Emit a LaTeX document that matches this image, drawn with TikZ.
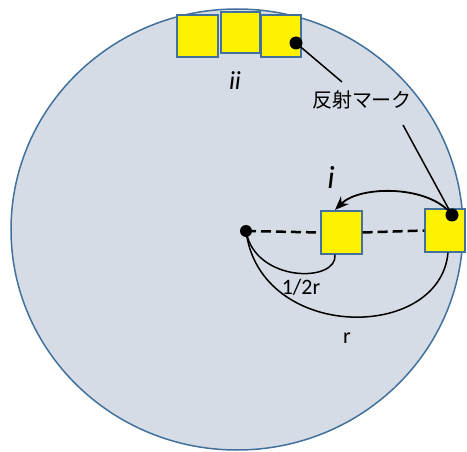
\documentclass[tikz,border=0pt]{standalone}
\usepackage{fontspec}
\setmainfont{Carlito}
\newfontfamily\jpfont{Noto Sans CJK JP}
\usetikzlibrary{arrows.meta}
\definecolor{plate}{HTML}{D6DCE5}
\definecolor{rim}{HTML}{41719C}
\tikzset{
  marker/.style={draw=rim, line width=1.2pt, fill=yellow, inner sep=0pt},
  spot/.style={circle, fill=black, inner sep=0pt, minimum size=13pt},
}
\begin{document}
\begin{tikzpicture}[x=1pt, y=-1pt]
    \useasboundingbox (0,0) rectangle (467,452);
    % Plate
    \draw[rim, fill=plate, line width=1.5pt] (237,229.5) ellipse (226 and 220.5);
    % Markers at the top edge (ii)
    \node[marker, minimum width=41pt, minimum height=42pt] (m1) at (197.5,36) {};
    \node[marker, minimum width=39pt, minimum height=41pt] (m2) at (240.5,32.5) {};
    \node[marker, minimum width=40pt, minimum height=42pt] (m3) at (281,36) {};
    \node at (235,81) {\fontsize{26}{28}\selectfont\itshape ii};
    % Markers on the radius (i)
    \node[marker, minimum width=41pt, minimum height=43pt] (mi) at (341.5,232.5) {};
    \node[marker, minimum width=40pt, minimum height=43pt] (mr) at (445,230.5) {};
    \node at (331,177) {\fontsize{32}{34}\selectfont\itshape i};
    % Centre and reflection marks
    \node[spot, minimum size=12pt] (c) at (246,231) {};
    \node[spot] (d1) at (296,43) {};
    \node[spot] (d2) at (452,215) {};
    % Label and leaders
    \node (lbl) at (362,100) {\fontsize{20}{22}\selectfont\jpfont 反射マーク};
    \coordinate (lt) at (342,82);
    \coordinate (lb) at (403,125);
    \draw[line width=1.5pt] (d1.center) -- (lt);
    \draw[line width=1.5pt] (lb) -- (d2.center);
    % Dashed radius
    \draw[line width=2.5pt, dash pattern=on 10pt off 5pt] (c.center) -- (mi.west);
    \draw[line width=2.5pt, dash pattern=on 10pt off 5pt] (mi.east) -- (mr.west);
    % Move inwards
    \draw[line width=1.8pt, -{Stealth[length=14pt, width=11pt]}]
        (d2.center) .. controls (430,185) and (360,185) .. (335,210);
    % Distances
    \draw[line width=1.5pt] (c.center) .. controls (255,283) and (338,283) .. (mi.south -| 335,0);
    \draw[line width=1.5pt] (c.center) .. controls (260,342) and (440,342) .. (mr.south -| 448,0);
    \node (half) at (301,287) {\fontsize{22}{24}\selectfont 1/2r};
    \node (full) at (347,338) {\fontsize{22}{24}\selectfont r};
\end{tikzpicture}
\end{document}
